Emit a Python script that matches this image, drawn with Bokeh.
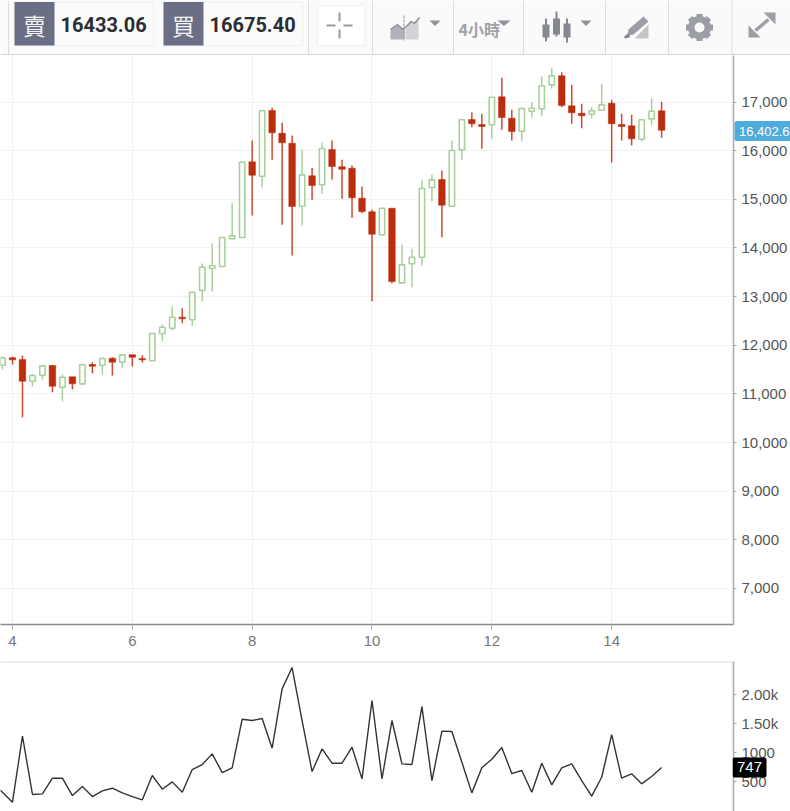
from bokeh.plotting import figure
from bokeh.layouts import column
from bokeh.models import FixedTicker, NumeralTickFormatter, Span
from bokeh.core.properties import value
from bokeh.embed import file_html
from bokeh.resources import INLINE

# ---------- data ----------
sell_price = "16433.06"
buy_price = "16675.40"
last_price = 16402.6
last_price_label = "16,402.6"
last_volume_label = "747"
day_ticks = [4, 6, 8, 10, 12, 14]
price_ticks = [7000, 8000, 9000, 10000, 11000, 12000, 13000, 14000, 15000, 16000, 17000]
volume_ticks = [500, 1000, 1500, 2000]
volume_tick_labels = {500: "500", 1000: "1000", 1500: "1.50k", 2000: "2.00k"}

opens = [11590, 11742, 11707, 11261, 11384, 11583, 11137, 11351, 11207, 11604, 11590, 11733, 11651, 11803, 11727, 11680,
         12235, 12350, 12576, 12523, 13125, 13577, 13618, 14188, 14214, 15770, 15475, 16825, 16358, 16153, 14858, 15483,
         15298, 16023, 15668, 15639, 15022, 14743, 14270, 14817, 13283, 13674, 13810, 15242, 15407, 14858, 16017, 16640,
         16537, 16531, 17107, 16667, 16399, 16811, 16860, 17353, 17538, 16922, 16769, 16749, 16831, 16975, 16537, 16510,
         16235, 16654, 16819]
highs = [11769, 11769, 11789, 11413, 11583, 11590, 11398, 11355, 11605, 11651, 11748, 11754, 11824, 11810, 11795, 12250,
         12426, 12796, 12761, 13100, 13680, 14091, 14225, 14919, 15770, 16208, 16830, 16880, 16572, 16311, 16017, 15647,
         16161, 16208, 15812, 15694, 15263, 14784, 14825, 14817, 14071, 13982, 15400, 15509, 15592, 16208, 16645, 16790,
         16757, 17105, 17497, 16839, 16875, 16996, 17524, 17694, 17612, 17353, 16963, 16893, 17374, 17045, 16757, 16737,
         16640, 17078, 17004]
lows = [11502, 11604, 10521, 11152, 11296, 11035, 10850, 11096, 11200, 11425, 11392, 11378, 11536, 11563, 11639, 11675,
        12083, 12303, 12453, 12399, 12905, 13104, 13600, 14180, 14205, 14667, 15248, 15812, 14475, 13844, 14461, 14989,
        15113, 15407, 15010, 14619, 14714, 12905, 14262, 13275, 13275, 13193, 13639, 14961, 14221, 14850, 15812, 16482,
        16038, 16243, 16428, 16208, 16194, 16687, 16708, 17271, 16893, 16552, 16461, 16667, 16825, 15756, 16208, 16106,
        16194, 16517, 16264]
closes = [11742, 11701, 11261, 11378, 11577, 11158, 11343, 11207, 11598, 11569, 11727, 11651, 11803, 11754, 11701, 12241,
          12371, 12576, 12543, 13090, 13604, 13633, 14214, 14249, 15762, 15495, 16819, 16367, 16161, 14852, 15503, 15283,
          16044, 15674, 15618, 15030, 14749, 14282, 14817, 13310, 13653, 13810, 15222, 15400, 14878, 16003, 16634, 16552,
          16496, 17098, 16681, 16393, 16866, 16872, 17333, 17538, 16928, 16778, 16716, 16819, 16942, 16552, 16496, 16243,
          16634, 16811, 16420]
# the first volume belongs to the bar just off the left edge
volumes = [465, 322, 150, 1284, 282, 293, 562, 562, 264, 419, 247, 345, 390, 310, 247, 190, 608, 373, 499, 322, 711,
           797, 980, 659, 740, 1576, 1553, 1587, 1078, 2097, 2463, 1553, 677, 1066, 820, 820, 1095, 551, 1897, 551, 1553,
           808, 797, 1793, 522, 1370, 1364, 837, 310, 740, 889, 1089, 642, 694, 322, 820, 448, 740, 808, 522, 253,
           579, 1312, 562, 637, 465, 591, 747]
# one candle every four hours; the second candle sits on day 4
days = [4 + (i - 1) / 6 for i in range(len(opens))]
volume_days = [4 + (i - 2) / 6 for i in range(len(volumes))]

# ---------- colours ----------
RED = "#bb2d0c"
RED_WICK = "#cf4a30"
GREEN = "#a9d09c"
ICON = "#9b9ea5"
GRID = "#f1f1f1"
AXIS_FONT = "Liberation Sans"


def place(left, top):
    return {"position": "absolute", "left": f"{left}px", "top": f"{top}px"}


# ---------- toolbar ----------
bar = figure(width=790, height=55, x_range=(0, 790), y_range=(55, 0), toolbar_location=None,
             output_backend="svg", min_border=0, x_axis_location=None, y_axis_location=None,
             background_fill_color="#fafafa", border_fill_color="#fafafa", outline_line_color=None,
             styles=place(0, 0))
bar.grid.visible = False


def box(x0, y0, x1, y1, fill, line=None):
    bar.quad(left=[x0], right=[x1], top=[y0], bottom=[y1], fill_color=fill, line_color=line)


def poly(xs, ys, fill=ICON):
    bar.patch(xs, ys, fill_color=fill, line_color=None)


def tri(x0, x1):
    poly([x0, x1, (x0 + x1) / 2], [20, 20, 25.5], "#8f9298")


for sx in [8, 308, 372, 453, 523, 605, 668, 731.5]:
    bar.segment([sx], [0], [sx], [55], line_color="#dddddd", line_width=1)
bar.segment([0], [54.5], [790], [54.5], line_color="#c8c8c8", line_width=1.5)

for x0, label, txt in [(14, "賣", sell_price), (163, "買", buy_price)]:
    box(x0, 1.5, x0 + 139, 45, "#fbfbfb", "#efefef")
    box(x0, 1.5, x0 + 40, 45, "#6b6f85")
    bar.text([x0 + 20], [24], text=[label], text_color="#f4f4f4", text_font=value("Noto Sans CJK TC"),
             text_font_size="23px", text_align="center", text_baseline="middle")
    bar.text([x0 + 46], [23.5], text=[txt], text_color="#2b2e33", text_font=value("Roboto"),
             text_font_style="bold", text_font_size="20px", text_align="left", text_baseline="middle")

# crosshair button
box(317, 5, 364, 45, "#ffffff", "#f0f0f0")
bar.segment([326, 343, 339, 339], [25, 25, 12, 29], [335, 352, 339, 339], [25, 25, 21, 38],
            line_color="#9a9a9a", line_width=2)

# chart-type icon
poly([390, 390, 397, 402, 404, 404], [39, 29, 24, 28, 28, 39], "#b0b2b8")
poly([405, 410, 414, 418, 418, 405], [26, 20, 23, 18, 39, 39], "#d2d3d6")
bar.line([390, 397, 402, 407, 411, 414, 419], [29, 24, 29, 25, 21, 23, 17], line_color="#8f9298", line_width=1.5)
bar.segment([403.5], [15], [403.5], [40], line_color="#8f9298", line_width=1, line_dash="3 1")
tri(429, 440)

# interval
bar.text([458], [28], text=["4小時"], text_color="#a0a2a8", text_font=value("Noto Sans CJK TC"),
         text_font_style="bold", text_font_size="16px", text_align="left", text_baseline="middle")
tri(497, 510)

# candles icon
bar.segment([545.5, 556, 566.5], [18, 11, 18], [545.5, 556, 566.5], [41, 36, 42], line_color="#85888f", line_width=2)
box(542, 24, 549, 37, "#85888f")
box(552.5, 18, 559.5, 34, "#85888f")
box(563, 23, 570, 37, "#85888f")
tri(580, 591)

# drawing icon
poly([628, 643, 648, 633, 627], [29, 16, 21, 34, 35], "#9b9ea5")
poly([623, 627, 630, 626], [37, 33, 36, 38], "#85888f")
poly([634, 648, 648, 634], [38, 24, 38, 38], "#c3c5c9")

# gear icon
bar.segment([699, 685.5, 689.5, 689.5], [13.5, 27, 17.5, 36.5], [699, 712.5, 708.5, 708.5], [40.5, 27, 36.5, 17.5],
            line_color=ICON, line_width=6)
bar.scatter([699], [27], size=23, marker="circle", fill_color=ICON, line_color=None)
bar.scatter([699], [27], size=10, marker="circle", fill_color="#fafafa", line_color=None)

# expand icon
poly([763, 775, 775, 771, 769], [12, 12, 24, 20, 18])
poly([748, 748, 760, 756, 754], [25, 37, 37, 33, 31])
bar.segment([755], [30], [768], [19], line_color=ICON, line_width=3.5)

# ---------- price pane ----------
up = [i for i in range(len(days)) if closes[i] >= opens[i]]
down = [i for i in range(len(days)) if closes[i] < opens[i]]


def pick(seq, idx):
    return [seq[i] for i in idx]


PRICE_RANGE = (6260, 17956)
VOLUME_RANGE = (-10, 2567)

main = figure(width=790, height=600, x_range=(3.8, 3.8 + 734 / 60), y_range=PRICE_RANGE,
              y_axis_location="right", toolbar_location=None, output_backend="svg",
              min_border_left=0, min_border_right=56, min_border_top=0, min_border_bottom=31,
              outline_line_color=None, background_fill_color="#ffffff")
main.xaxis.ticker = FixedTicker(ticks=day_ticks)
main.yaxis.ticker = FixedTicker(ticks=price_ticks)
main.yaxis.formatter = NumeralTickFormatter(format="0,0")
main.xgrid.grid_line_color = GRID
main.ygrid.grid_line_color = GRID
main.xaxis.axis_line_color = "#8a8a8a"
main.xaxis.axis_line_width = 1.5
main.xaxis.major_tick_line_color = "#aaaaaa"
main.xaxis.major_tick_in = 0
main.xaxis.major_tick_out = 5
main.xaxis.minor_tick_line_color = None
main.xaxis.major_label_text_color = "#777777"
main.xaxis.major_label_text_font = AXIS_FONT
main.xaxis.major_label_text_font_size = "15px"
main.xaxis.major_label_standoff = 6
main.yaxis.axis_line_color = "#aaaaaa"
main.yaxis.axis_line_width = 1.5
main.yaxis.major_tick_line_color = "#aaaaaa"
main.yaxis.major_tick_in = 0
main.yaxis.major_tick_out = 3
main.yaxis.minor_tick_line_color = None
main.yaxis.major_label_text_color = "#555555"
main.yaxis.major_label_text_font = AXIS_FONT
main.yaxis.major_label_text_font_size = "15px"
main.yaxis.major_label_standoff = 5

main.segment(pick(days, up), pick(highs, up), pick(days, up), pick(lows, up), line_color=GREEN, line_width=1.5)
main.segment(pick(days, down), pick(highs, down), pick(days, down), pick(lows, down), line_color=RED_WICK, line_width=1.5)
main.vbar(x=pick(days, up), top=pick(closes, up), bottom=pick(opens, up), width=5.4 / 60,
          fill_color="#ffffff", line_color=GREEN, line_width=1.6)
main.vbar(x=pick(days, down), top=pick(opens, down), bottom=pick(closes, down), width=6.6 / 60,
          fill_color=RED, line_color=RED, line_width=0.5)

# ---------- volume pane ----------
vol = figure(width=790, height=156, x_range=(3.8, 3.8 + 734 / 60), y_range=VOLUME_RANGE,
             y_axis_location="right", x_axis_location=None, toolbar_location=None, output_backend="svg",
             min_border_left=0, min_border_right=56, min_border_top=6, min_border_bottom=0,
             outline_line_color=None, background_fill_color="#ffffff")
vol.grid.visible = False
vol.yaxis.ticker = FixedTicker(ticks=volume_ticks)
vol.yaxis.major_label_overrides = volume_tick_labels
vol.yaxis.axis_line_color = "#aaaaaa"
vol.yaxis.axis_line_width = 1.5
vol.yaxis.major_tick_line_color = "#aaaaaa"
vol.yaxis.major_tick_in = 0
vol.yaxis.major_tick_out = 3
vol.yaxis.minor_tick_line_color = None
vol.yaxis.major_label_text_color = "#555555"
vol.yaxis.major_label_text_font = AXIS_FONT
vol.yaxis.major_label_text_font_size = "15px"
vol.yaxis.major_label_standoff = 5
vol.add_layout(Span(location=VOLUME_RANGE[1], dimension="width", line_color="#dcdcdc", line_width=2))
vol.line(volume_days, volumes, line_color="#333333", line_width=1.4)


# ---------- price tags: clear panes stacked over the axes, sharing their value scales ----------
def tag_pane(left, top, height, yrange):
    t = figure(width=790 - left, height=height, x_range=(0, 790 - left), y_range=yrange,
               toolbar_location=None, output_backend="svg", min_border=0,
               x_axis_location=None, y_axis_location=None, outline_line_color=None,
               background_fill_alpha=0, border_fill_alpha=0, styles=place(left, top))
    t.grid.visible = False
    return t


price_tag = tag_pane(732, 55, 569, PRICE_RANGE)
price_tag.rect([38], [last_price], width=68, height=16, height_units="screen", fill_color="#4fabdc",
               line_color="#4fabdc", line_width=4, line_join="round")
price_tag.text([6.5], [last_price], text=[last_price_label], text_color="#ffffff", text_font=value(AXIS_FONT),
               text_font_size="13px", text_baseline="middle", text_align="left")

volume_tag = tag_pane(732, 661, 150, VOLUME_RANGE)
volume_tag.rect([17], [volumes[-1]], width=30, height=16, height_units="screen", fill_color="#000000",
                line_color="#000000", line_width=4, line_join="round")
volume_tag.text([17], [volumes[-1]], text=[last_volume_label], text_color="#ffffff", text_font=value(AXIS_FONT),
                text_font_size="15px", text_baseline="middle", text_align="center")

panes = column(main, vol, spacing=0, styles=place(0, 55))
open("out.html", "w").write(file_html([bar, panes, price_tag, volume_tag], INLINE))
